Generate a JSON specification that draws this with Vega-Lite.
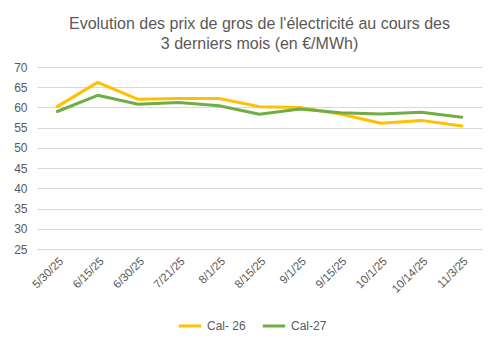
{
  "$schema": "https://vega.github.io/schema/vega-lite/v6.json",
  "width": 445,
  "height": 182,
  "autosize": {"type": "none"},
  "padding": {"left": 37, "top": 67, "right": 20, "bottom": 94},
  "background": "white",
  "title": {
    "text": ["Evolution des prix de gros de l'électricité au cours des", "3 derniers mois (en €/MWh)"],
    "font": "Liberation Sans",
    "fontSize": 16,
    "fontWeight": "normal",
    "color": "#595959",
    "anchor": "middle",
    "lineHeight": 20,
    "offset": 9
  },
  "data": {
    "values": [
      {"date": "5/30/25", "series": "Cal- 26", "price": 60.2},
      {"date": "6/15/25", "series": "Cal- 26", "price": 66.2},
      {"date": "6/30/25", "series": "Cal- 26", "price": 62.0},
      {"date": "7/21/25", "series": "Cal- 26", "price": 62.2},
      {"date": "8/1/25", "series": "Cal- 26", "price": 62.2},
      {"date": "8/15/25", "series": "Cal- 26", "price": 60.2},
      {"date": "9/1/25", "series": "Cal- 26", "price": 60.0},
      {"date": "9/15/25", "series": "Cal- 26", "price": 58.4},
      {"date": "10/1/25", "series": "Cal- 26", "price": 56.1},
      {"date": "10/14/25", "series": "Cal- 26", "price": 56.8},
      {"date": "11/3/25", "series": "Cal- 26", "price": 55.4},
      {"date": "5/30/25", "series": "Cal-27", "price": 59.0},
      {"date": "6/15/25", "series": "Cal-27", "price": 63.0},
      {"date": "6/30/25", "series": "Cal-27", "price": 60.8},
      {"date": "7/21/25", "series": "Cal-27", "price": 61.2},
      {"date": "8/1/25", "series": "Cal-27", "price": 60.4},
      {"date": "8/15/25", "series": "Cal-27", "price": 58.3},
      {"date": "9/1/25", "series": "Cal-27", "price": 59.6},
      {"date": "9/15/25", "series": "Cal-27", "price": 58.7},
      {"date": "10/1/25", "series": "Cal-27", "price": 58.4},
      {"date": "10/14/25", "series": "Cal-27", "price": 58.8},
      {"date": "11/3/25", "series": "Cal-27", "price": 57.6}
    ]
  },
  "mark": {"type": "line", "strokeWidth": 3, "strokeCap": "round", "strokeJoin": "round"},
  "encoding": {
    "x": {
      "field": "date",
      "type": "ordinal",
      "sort": null,
      "title": null,
      "scale": {"padding": 0.5},
      "axis": {
        "labelAngle": -45,
        "labelFont": "Liberation Sans",
        "labelFontSize": 11.5,
        "labelColor": "#595959",
        "ticks": false,
        "domainColor": "#d9d9d9",
        "labelPadding": 6
      }
    },
    "y": {
      "field": "price",
      "type": "quantitative",
      "title": null,
      "scale": {"domain": [25, 70], "zero": false, "nice": false},
      "axis": {
        "values": [25, 30, 35, 40, 45, 50, 55, 60, 65, 70],
        "labelFont": "Liberation Sans",
        "labelFontSize": 12,
        "labelColor": "#595959",
        "ticks": false,
        "domain": false,
        "gridColor": "#d9d9d9",
        "labelPadding": 10
      }
    },
    "color": {
      "field": "series",
      "type": "nominal",
      "scale": {"domain": ["Cal- 26", "Cal-27"], "range": ["#FFC000", "#70AD47"]},
      "legend": {
        "title": null,
        "orient": "none",
        "legendX": 140,
        "legendY": 246,
        "direction": "horizontal",
        "symbolType": "stroke",
        "symbolStrokeWidth": 3,
        "symbolSize": 500,
        "labelFont": "Liberation Sans",
        "labelFontSize": 12,
        "labelColor": "#595959",
        "columnPadding": 10
      }
    }
  },
  "config": {"view": {"stroke": null}}
}
